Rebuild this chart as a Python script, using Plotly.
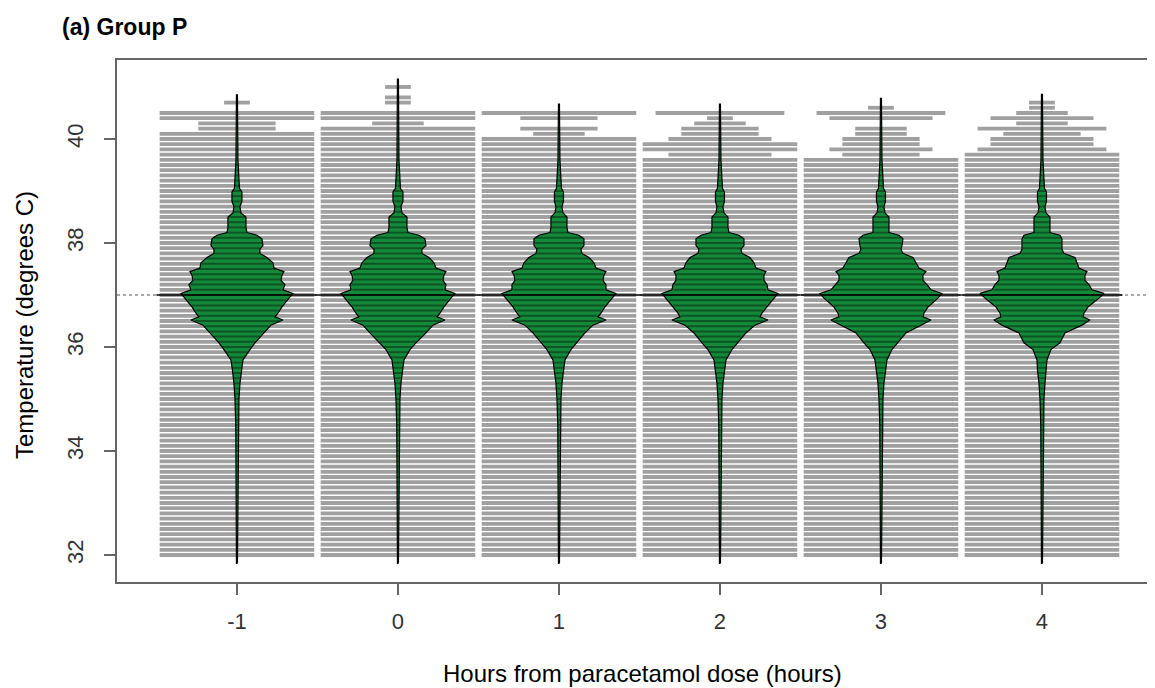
import numpy as np
import plotly.graph_objects as go

# ---------------- data ----------------
hours = [-1, 0, 1, 2, 3, 4]
group_avg = [37.0, 37.0, 37.0, 37.0, 37.0, 37.0]
overall_avg = 37.0

# every 0.1 degC value from dense_low to dense_high is observed many times (full-width beanline)
dense_low = [32.0, 32.0, 32.0, 32.0, 32.0, 32.0]
dense_high = [40.1, 40.2, 40.0, 39.6, 39.6, 39.7]

# sparse upper values (degC) and their counts (6 = full width)
top_t_m1 = [40.2, 40.3, 40.4, 40.5, 40.7]
top_c_m1 = [3, 3, 6, 6, 1]
top_t_0 = [40.3, 40.4, 40.5, 40.7, 40.8, 41.0]
top_c_0 = [2, 6, 6, 1, 1, 1]
top_t_1 = [40.1, 40.2, 40.4, 40.5]
top_c_1 = [2, 3, 3, 6]
top_t_2 = [39.7, 39.8, 39.9, 40.0, 40.1, 40.2, 40.3, 40.4, 40.5]
top_c_2 = [4, 6, 6, 4, 3, 3, 2, 1, 5]
top_t_3 = [39.7, 39.8, 39.9, 40.0, 40.1, 40.2, 40.4, 40.5, 40.6]
top_c_3 = [3, 4, 3, 3, 2, 2, 4, 5, 1]
top_t_4 = [39.8, 39.9, 40.0, 40.1, 40.2, 40.3, 40.4, 40.5, 40.6, 40.7]
top_c_4 = [5, 4, 4, 3, 5, 2, 4, 2, 1, 1]

# bean density profiles (temperature, relative density)
bean_t_m1 = [31.84, 33.0, 34.5, 35.0, 35.3, 35.55, 35.75, 35.95, 36.08, 36.27, 36.42, 36.52, 36.58, 36.65,
             36.77, 36.94, 37.03, 37.1, 37.2, 37.28, 37.38, 37.45, 37.52, 37.62, 37.72, 37.8, 37.88, 37.95,
             38.08, 38.15, 38.2, 38.3, 38.5, 38.58, 38.7, 38.8, 38.98, 39.05, 39.3, 39.6, 40.85]
bean_d_m1 = [0.5, 0.8, 1.2, 2, 3, 4.5, 6, 13, 18, 27, 34, 46, 38, 41, 45, 52, 56, 46, 48, 44, 45, 47, 37, 36,
             30, 23, 23, 26, 25, 20, 10, 9, 9, 4, 3, 5, 5, 2.5, 2, 1, 0.5]
bean_t_0 = bean_t_m1[:-1] + [41.15]
bean_d_0 = [0.5, 0.8, 1.2, 2, 3, 4.5, 6, 12, 18, 28, 35, 47, 39, 42, 46, 53, 57, 47, 48, 45, 46, 48, 38, 36,
            31, 24, 24, 28, 27, 21, 10, 9, 9, 4, 3, 5, 5, 2.5, 2, 1, 0.5]
bean_t_1 = bean_t_m1[:-1] + [40.67]
bean_d_1 = [0.5, 0.8, 1.2, 2, 3, 4.5, 6, 12, 18, 26, 34, 47, 39, 42, 46, 53, 57, 47, 47, 44, 45, 47, 37, 35,
            30, 23, 22, 25, 25, 20, 9, 8, 8, 4, 3, 4.5, 4.5, 2.5, 2, 1, 0.5]
bean_t_2 = bean_t_m1[:-1] + [40.67]
bean_d_2 = [0.5, 0.8, 1.2, 2, 3, 4.5, 6, 12, 18, 26, 35, 48, 40, 42, 47, 54, 58, 48, 47, 44, 44, 46, 36, 34,
            30, 22, 21, 24, 24, 19, 9, 8, 8, 4, 3, 4.5, 4.5, 2.5, 2, 1, 0.5]
bean_t_3 = bean_t_m1[:-1] + [40.78]
bean_d_3 = [0.5, 0.8, 1.2, 2, 3, 4.5, 6, 11, 17, 25, 40, 50, 42, 43, 47, 57, 61, 50, 46, 42, 42, 45, 38, 35,
            32, 22, 20, 21, 22, 18, 8, 8, 8, 4, 3, 4.5, 4.5, 2.5, 2, 1, 0.5]
bean_t_4 = bean_t_m1[:-1] + [40.86]
bean_d_4 = [0.5, 0.8, 1.2, 2, 3, 4.5, 5, 9, 18, 23, 40, 48, 41, 42, 46, 57, 62, 50, 47, 43, 43, 45, 37, 35,
            33, 22, 20, 20, 20, 18, 8, 8, 8, 4, 3, 4.5, 4.5, 2.5, 2, 1, 0.5]

top_t = [top_t_m1, top_t_0, top_t_1, top_t_2, top_t_3, top_t_4]
top_c = [top_c_m1, top_c_0, top_c_1, top_c_2, top_c_3, top_c_4]
bean_t = [bean_t_m1, bean_t_0, bean_t_1, bean_t_2, bean_t_3, bean_t_4]
bean_d = [bean_d_m1, bean_d_0, bean_d_1, bean_d_2, bean_d_3, bean_d_4]

y_ticks = [32, 34, 36, 38, 40]

# ---------------- style ----------------
RES = 0.1          # measurement resolution, degC
FULL = 6           # count that reaches the full bean width
LL = 0.16          # beanline length per observation
MAXW = 0.48        # max half width of a beanline
BEANW = 0.385      # half width of the widest bean
FONT = "Liberation Sans, Arial, sans-serif"
GREEN = "#14893a"
GRAY = "#a0a0a0"
AXC = "#666666"

dmax = max(max(d) for d in bean_d)

fig = go.Figure()

# outside beanlines (gray)
gx, gy = [], []
inner_x, inner_y = [], []
for i, h in enumerate(hours):
    dense = list(np.round(np.arange(dense_low[i], dense_high[i] + 1e-9, RES), 2))
    vals = dense + top_t[i]
    cnts = [FULL] * len(dense) + top_c[i]
    wt = np.array(bean_t[i])
    ww = np.array(bean_d[i]) / dmax * BEANW
    for v, c in zip(vals, cnts):
        hw = min(c * LL / 2, MAXW)
        gx += [h - hw, h + hw, None]
        gy += [v, v, None]
        bw = min(float(np.interp(v, wt, ww)), hw) * 0.97
        inner_x += [h - bw, h + bw, None]
        inner_y += [v, v, None]

fig.add_trace(go.Scatter(x=gx, y=gy, mode="lines", line=dict(color=GRAY, width=3.8),
                         hoverinfo="skip", showlegend=False))

# beans
for i, h in enumerate(hours):
    t = np.array(bean_t[i])
    w = np.array(bean_d[i]) / dmax * BEANW
    px = list(h + w) + list((h - w)[::-1]) + [h + w[0]]
    py = list(t) + list(t[::-1]) + [t[0]]
    fig.add_trace(go.Scatter(x=px, y=py, mode="lines", fill="toself", fillcolor=GREEN,
                             line=dict(color="black", width=1.2), hoverinfo="skip", showlegend=False))

# inside beanlines (dark)
fig.add_trace(go.Scatter(x=inner_x, y=inner_y, mode="lines", line=dict(color="rgba(0,0,0,0.38)", width=2),
                         hoverinfo="skip", showlegend=False))

# bean averages
ax, ay = [], []
for h, a in zip(hours, group_avg):
    ax += [h - 0.5, h + 0.5, None]
    ay += [a, a, None]
fig.add_trace(go.Scatter(x=ax, y=ay, mode="lines", line=dict(color="black", width=1.5),
                         hoverinfo="skip", showlegend=False))

# overall average (dotted)
fig.add_shape(type="line", xref="paper", x0=0, x1=1, yref="y", y0=overall_avg, y1=overall_avg,
              line=dict(color="#555555", width=1, dash="dot"), layer="below")

# page is offset by the browser's 8px body margin
fig.update_layout(
    width=1147, height=680,
    margin=dict(l=109, r=0, t=52, b=106),
    paper_bgcolor="white", plot_bgcolor="white",
    font=dict(family=FONT, color="#333333", size=22),
    xaxis=dict(range=[-1.745, 4.702], tickvals=hours, ticktext=[str(h) for h in hours],
               showgrid=False, zeroline=False, showline=True, mirror=True, linecolor=AXC, linewidth=2,
               ticks="outside", ticklen=11, tickwidth=1.5, tickcolor=AXC, ticklabelstandoff=8,
               tickfont=dict(size=22, color="#333333", family=FONT)),
    yaxis=dict(range=[31.481, 41.519], tickvals=y_ticks, ticktext=[str(v) for v in y_ticks],
               showgrid=False, zeroline=False, showline=True, linecolor=AXC, linewidth=2,
               ticks="outside", ticklen=11, tickwidth=1.5, tickcolor=AXC, tickangle=-90, ticklabelstandoff=12,
               tickfont=dict(size=22, color="#333333", family=FONT)),
    annotations=[
        dict(text="<b>(a) Group P</b>", xref="paper", yref="paper", x=(60 - 117) / 1038, y=(582 - 27) / 522,
             xanchor="left", yanchor="middle", showarrow=False, font=dict(size=23, color="black", family=FONT)),
        dict(text="Hours from paracetamol dose (hours)", xref="paper", yref="paper",
             x=(642 - 117) / 1038, y=(582 - 673) / 522, xanchor="center", yanchor="middle", showarrow=False,
             font=dict(size=24, color="black", family=FONT)),
        dict(text="Temperature (degrees C)", xref="paper", yref="paper",
             x=(24 - 117) / 1038, y=(582 - 325) / 522, xanchor="center", yanchor="middle", textangle=-90,
             showarrow=False, font=dict(size=24, color="black", family=FONT)),
    ],
)

fig.write_html("out.html")
